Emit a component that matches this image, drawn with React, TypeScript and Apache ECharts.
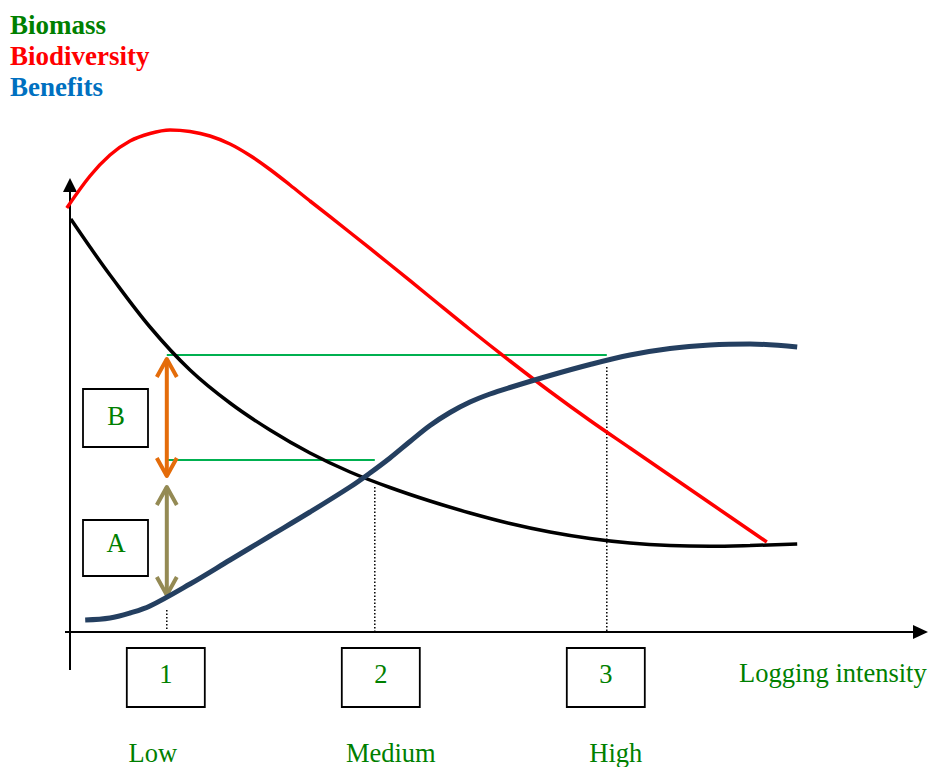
import React, { useEffect, useRef } from "react";
import * as echarts from "echarts";

// ---- Data (arbitrary conceptual units) ----
const biodiversityX = [-0.4, 2.5, 5, 7.5, 10, 12.5, 15, 17.5, 20, 22.5, 25, 27.5, 30, 35, 40, 45, 50, 55, 60, 65, 70, 75, 80, 85, 87.1];
const biodiversityY = [84.8, 91.2, 95.4, 98.2, 99.7, 100.4, 100.1, 99.2, 97.6, 95.3, 92.5, 89.4, 86.2, 79.9, 73.5, 67, 60.5, 54.2, 48.1, 42.3, 36.8, 31.3, 25.8, 20.3, 18];

const biomassX = [0.1, 2.5, 5, 10, 15, 20, 25, 30, 35, 40, 45, 50, 55, 60, 65, 70, 75, 80, 85, 90.9];
const biomassY = [82.6, 77, 71.4, 61, 52.4, 45.8, 40.4, 35.8, 32, 28.9, 26.2, 23.8, 21.7, 20, 18.7, 17.8, 17.3, 17.15, 17.3, 17.6];

const benefitsX = [1.9, 5, 7.5, 10, 15, 20, 25, 30, 35, 37.5, 40, 42.5, 45, 47.5, 50, 52.5, 55, 60, 65, 70, 75, 80, 85, 90.9];
const benefitsY = [2.4, 2.8, 3.8, 5.2, 9.6, 14.4, 19.2, 24, 29, 31.8, 34.8, 38.1, 41.3, 43.9, 46, 47.6, 48.9, 51.3, 53.5, 55.4, 56.7, 57.4, 57.6, 57];

const intensityTicks = [12.1, 38.1, 67.1];
const intensityNumbers = ["1", "2", "3"];
const intensityLevels = ["Low", "Medium", "High"];
const dropLineTops = [4.4, 29, 53];

const referenceLevels = [34.4, 55.4];
const referenceEndTick = [1, 2];

const arrowB = [55, 30.8];
const arrowA = [29.4, 7];

const seriesNames = ["Biomass", "Biodiversity", "Benefits"];
const legendColors = ["#008000", "#ff0000", "#0070c0"];

// ---- Layout helpers ----
const X_MIN = -70 / 8;
const X_MAX = (929 - 70) / 8;
const Y_MIN = (632 - 767) / 5;
const Y_MAX = 632 / 5;
const SERIF = "'Liberation Serif', 'Times New Roman', serif";
const GREEN = "#008000";
const FS = 26.5;
const SMOOTH = 0.35;

const pairs = (xs: number[], ys: number[]) => xs.map((x, i) => [x, ys[i]]);

function renderItem(params: any, api: any) {
  const c = (x: number, y: number) => api.coord([x, y]);
  const kids: any[] = [];
  const [ox, oy] = c(0, 0);
  const black = "#000";

  // axes
  kids.push({ type: "line", shape: { x1: ox - 5, y1: oy, x2: 915, y2: oy }, style: { stroke: black, lineWidth: 2 } });
  kids.push({ type: "polygon", shape: { points: [[928, oy], [913, oy - 7], [913, oy + 7]] }, style: { fill: black } });
  kids.push({ type: "line", shape: { x1: ox, y1: oy + 38, x2: ox, y2: 190 }, style: { stroke: black, lineWidth: 2 } });
  kids.push({ type: "polygon", shape: { points: [[ox, 178], [ox - 7, 192], [ox + 7, 192]] }, style: { fill: black } });

  // dotted drop lines
  intensityTicks.forEach((t, i) => {
    const a = c(t, dropLineTops[i]);
    const b = c(t, 0);
    kids.push({
      type: "line",
      shape: { x1: a[0], y1: a[1], x2: b[0], y2: b[1] },
      style: { stroke: black, lineWidth: 1.5, lineDash: [1.5, 2] },
    });
  });

  // green reference lines
  referenceLevels.forEach((lv, i) => {
    const a = c(intensityTicks[0], lv);
    const b = c(intensityTicks[referenceEndTick[i]], lv);
    kids.push({
      type: "line",
      shape: { x1: a[0], y1: a[1], x2: b[0], y2: b[1] },
      style: { stroke: "#00b050", lineWidth: 2 },
    });
  });

  // double arrows
  const dArrow = (x: number, yTop: number, yBot: number, color: string) => {
    const p1 = c(x, yTop);
    const p2 = c(x, yBot);
    const st = { stroke: color, lineWidth: 4, fill: null, lineCap: "butt", lineJoin: "round" };
    kids.push({ type: "line", shape: { x1: p1[0], y1: p1[1] + 2, x2: p2[0], y2: p2[1] - 2 }, style: st });
    kids.push({
      type: "polyline",
      shape: { points: [[p1[0] - 10, p1[1] + 20], [p1[0], p1[1] + 2], [p1[0] + 10, p1[1] + 20]] },
      style: st,
    });
    kids.push({
      type: "polyline",
      shape: { points: [[p2[0] - 10, p2[1] - 20], [p2[0], p2[1] - 2], [p2[0] + 10, p2[1] - 20]] },
      style: st,
    });
  };
  dArrow(intensityTicks[0], arrowB[0], arrowB[1], "#e46c0a");
  dArrow(intensityTicks[0], arrowA[0], arrowA[1], "#948a54");

  // side boxes A / B
  const sideBox = (label: string, top: number, h: number, ty: number) => {
    kids.push({
      type: "rect",
      shape: { x: ox + 13, y: top, width: 65, height: h },
      style: { fill: "#fff", stroke: black, lineWidth: 1.8 },
    });
    kids.push({
      type: "text",
      style: { text: label, x: ox + 46, y: ty, fill: GREEN, fontSize: FS, fontFamily: SERIF, align: "center", verticalAlign: "middle" },
    });
  };
  sideBox("B", 389, 58, 416);
  sideBox("A", 520, 56, 543);

  // intensity boxes + level labels
  const boxShift = [-1, 6, -1];
  const labelShift = [-14, 16, 9];
  intensityTicks.forEach((t, i) => {
    const [px] = c(t, 0);
    const cx = px + boxShift[i];
    kids.push({
      type: "rect",
      shape: { x: cx - 39, y: oy + 16, width: 78, height: 59 },
      style: { fill: "#fff", stroke: black, lineWidth: 1.8 },
    });
    kids.push({
      type: "text",
      style: { text: intensityNumbers[i], x: cx, y: oy + 42, fill: GREEN, fontSize: FS, fontFamily: SERIF, align: "center", verticalAlign: "middle" },
    });
    kids.push({
      type: "text",
      style: { text: intensityLevels[i], x: px + labelShift[i], y: oy + 121, fill: GREEN, fontSize: FS, fontFamily: SERIF, align: "center", verticalAlign: "middle" },
    });
  });

  kids.push({
    type: "text",
    style: { text: "Logging intensity", x: 739, y: oy + 41, fill: GREEN, fontSize: FS, fontFamily: SERIF, align: "left", verticalAlign: "middle" },
  });

  return { type: "group", children: kids };
}

export default function App() {
  const ref = useRef<HTMLDivElement>(null);
  useEffect(() => {
    const chart = echarts.init(ref.current!, null, { renderer: "svg" });
    const legendText = { fontSize: 27, fontWeight: "bold", fontFamily: SERIF };
    chart.setOption({
      animation: false,
      backgroundColor: "#ffffff",
      grid: { left: 0, top: 0, right: 0, bottom: 0 },
      xAxis: { type: "value", min: X_MIN, max: X_MAX, show: false },
      yAxis: { type: "value", min: Y_MIN, max: Y_MAX, show: false },
      legend: {
        orient: "vertical",
        left: 5,
        top: 11,
        padding: 0,
        itemGap: 4,
        itemWidth: 0,
        itemHeight: 27,
        icon: "none",
        selectedMode: false,
        textStyle: legendText,
        data: seriesNames.map((n, i) => ({
          name: n,
          icon: "none",
          textStyle: { ...legendText, color: legendColors[i] },
        })),
      },
      series: [
        {
          type: "custom",
          name: "annotations",
          renderItem,
          data: [[0, 0]],
          clip: false,
          silent: true,
          z: 1,
        },
        {
          type: "line",
          name: "Biodiversity",
          data: pairs(biodiversityX, biodiversityY),
          smooth: SMOOTH,
          showSymbol: false,
          lineStyle: { color: "#ff0000", width: 3.5 },
          itemStyle: { color: "#ff0000" },
          z: 3,
        },
        {
          type: "line",
          name: "Biomass",
          data: pairs(biomassX, biomassY),
          smooth: SMOOTH,
          showSymbol: false,
          lineStyle: { color: "#000000", width: 3.5 },
          itemStyle: { color: "#000000" },
          z: 3,
        },
        {
          type: "line",
          name: "Benefits",
          data: pairs(benefitsX, benefitsY),
          smooth: SMOOTH,
          showSymbol: false,
          lineStyle: { color: "#243f60", width: 5 },
          itemStyle: { color: "#243f60" },
          z: 3,
        },
      ],
    });
    return () => chart.dispose();
  }, []);
  return <div ref={ref} style={{ position: "fixed", left: 0, top: 0, width: 929, height: 767 }} />;
}
